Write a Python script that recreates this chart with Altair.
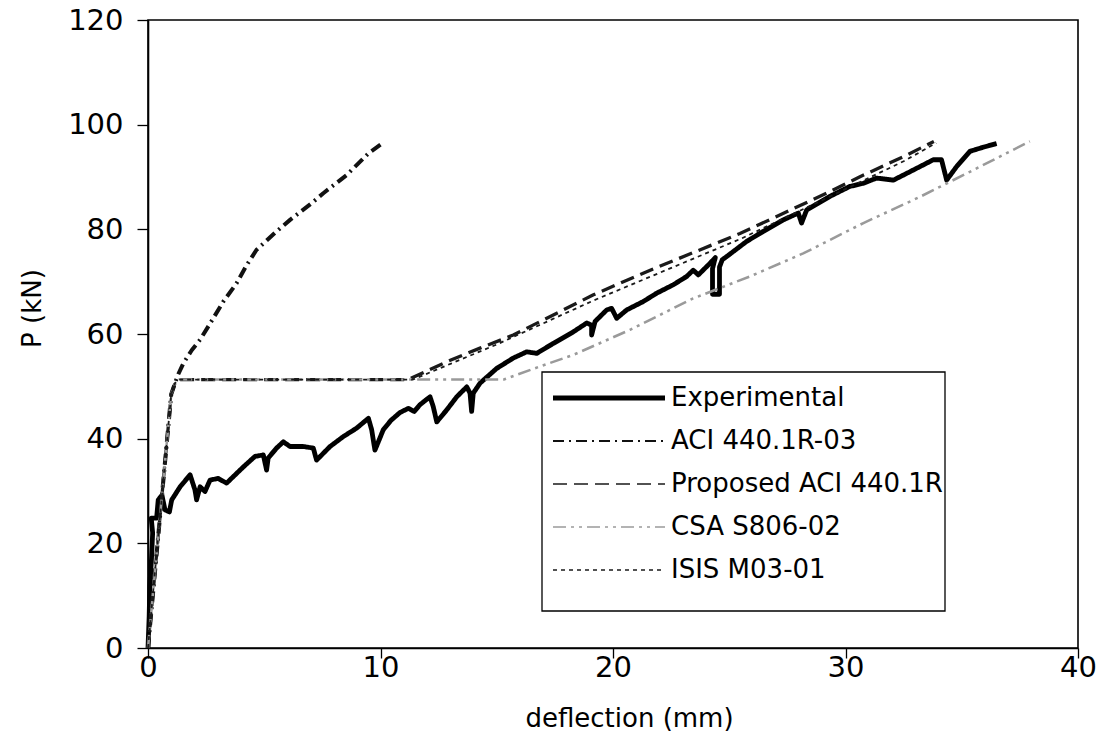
import altair as alt
import pandas as pd

# Load (kN) versus midspan deflection (mm)
exp_x = [0.00, 0.05, 0.08, 0.15, 0.20, 0.14, 0.37, 0.44, 0.60, 0.73, 0.92, 1.02, 1.38, 1.81,
         2.02, 2.09, 2.24, 2.45, 2.67, 3.02, 3.38, 4.10, 4.60, 4.96, 5.10, 5.17, 5.53, 5.82,
         6.11, 6.68, 7.11, 7.25, 7.83, 8.40, 8.97, 9.48, 9.62, 9.76, 10.12, 10.45, 10.84,
         11.20, 11.45, 11.70, 12.13, 12.27, 12.42, 12.85, 13.28, 13.71, 13.85, 13.92, 13.99,
         14.28, 14.99, 15.71, 16.29, 16.72, 17.43, 18.29, 18.87, 19.08, 19.08, 19.23, 19.73,
         19.94, 20.16, 20.59, 21.30, 21.88, 22.59, 23.17, 23.45, 23.67, 24.17, 24.40, 24.28,
         24.28, 24.58, 24.58, 24.70, 24.89, 25.75, 26.46, 27.32, 27.97, 28.11, 28.33, 29.33,
         30.19, 30.77, 31.34, 32.06, 32.77, 33.78, 34.13, 34.35, 34.78, 35.35, 35.93, 36.50]
exp_p = [0.0, 6.0, 12.0, 17.0, 22.0, 24.8, 24.8, 28.3, 29.2, 26.4, 26.0, 28.3, 30.8, 33.1,
         30.2, 28.3, 30.8, 29.9, 32.1, 32.4, 31.5, 34.6, 36.6, 36.9, 34.0, 36.3, 38.2, 39.4,
         38.5, 38.5, 38.2, 35.9, 38.5, 40.4, 42.0, 43.9, 41.7, 37.8, 41.7, 43.5, 45.0,
         45.8, 45.2, 46.5, 48.0, 46.1, 43.2, 45.5, 48.0, 49.9, 48.7, 45.2, 48.7,
         50.6, 53.4, 55.4, 56.6, 56.3, 58.2, 60.4, 62.1, 61.7, 59.8, 62.4, 64.6,
         64.9, 63.0, 64.6, 66.2, 67.8, 69.4, 71.0, 72.2, 71.3, 73.5, 74.6, 72.5,
         67.6, 67.6, 72.8, 74.2, 74.8, 77.7, 79.6, 81.8, 83.1, 81.2, 83.7, 86.3,
         88.2, 88.8, 89.8, 89.4, 91.0, 93.3, 93.3, 89.4, 92.0, 94.9, 95.7, 96.4]

aci03_x = [0.0, 0.5, 1.0, 1.16, 1.30, 1.52, 1.88, 2.24, 2.67, 3.24, 3.81, 4.25, 4.67, 5.53,
           6.11, 7.04, 7.54, 8.55, 9.48, 10.10]
aci03_p = [0.0, 24.3, 48.5, 50.6, 52.3, 54.4, 56.9, 58.9, 62.0, 66.2, 69.7, 73.2, 76.1, 79.6,
           81.8, 85.0, 86.9, 90.4, 94.5, 96.5]

prop_x = [0.0, 0.5, 1.0, 1.16, 1.35, 11.20, 12.85, 14.28, 15.71, 19.16, 21.60, 25.46, 29.19,
          30.60, 32.50, 33.80]
prop_p = [0.0, 24.3, 48.5, 50.6, 51.3, 51.3, 54.7, 57.3, 59.8, 67.5, 72.2, 79.2, 86.9,
          90.0, 93.9, 96.8]

csa_x = [0.0, 0.5, 1.0, 1.16, 1.35, 15.30, 16.86, 18.29, 20.73, 23.45, 25.89, 28.18, 30.77,
         33.20, 35.35, 37.93]
csa_p = [0.0, 24.3, 48.5, 50.6, 51.3, 51.3, 53.8, 56.0, 60.8, 66.8, 71.0, 75.4, 81.2,
         86.2, 91.0, 96.8]

isis_x = [0.0, 0.5, 1.0, 1.16, 1.35, 11.40, 13.06, 15.00, 19.16, 25.50, 29.20, 32.50, 33.90]
isis_p = [0.0, 24.3, 48.5, 50.6, 51.3, 51.3, 54.4, 58.0, 66.4, 78.2, 86.0, 93.0, 96.5]

series_names = ["Experimental", "ACI 440.1R-03", "Proposed ACI 440.1R", "CSA S806-02", "ISIS M03-01"]
x_ticks = [0, 10, 20, 30, 40]
y_ticks = [0, 20, 40, 60, 80, 100, 120]

# line styles per series
line_colors = ["#000000", "#111111", "#1a1a1a", "#9a9a9a", "#1a1a1a"]
line_dashes = [[1, 0], [11, 5, 2, 5], [14, 7], [13, 5, 3, 5, 3, 5], [4, 4]]
line_widths = [4.8, 1.8, 1.6, 1.4, 1.6]

FONT = "DejaVu Sans"

rows = []
for name, xs, ps in zip(series_names,
                        [exp_x, aci03_x, prop_x, csa_x, isis_x],
                        [exp_p, aci03_p, prop_p, csa_p, isis_p]):
    for i, (x, p) in enumerate(zip(xs, ps)):
        rows.append({"series": name, "deflection": x, "P": p, "idx": i})
df = pd.DataFrame(rows)

stroke_scale = alt.Scale(domain=series_names, range=line_colors)
dash_scale = alt.Scale(domain=series_names, range=line_dashes)
width_scale = alt.Scale(domain=series_names, range=line_widths)

lines = alt.Chart(df).mark_line(strokeJoin="round").encode(
    x=alt.X("deflection:Q",
            scale=alt.Scale(domain=[0, 40], nice=False, zero=False),
            axis=alt.Axis(values=x_ticks, title="deflection (mm)", grid=False,
                          tickSize=10, tickWidth=1.3, tickColor="black",
                          domainColor="black", domainWidth=1.6,
                          labelFont=FONT, labelFontSize=29, labelColor="black",
                          labelPadding=-5, labelFlush=False,
                          titleFont=FONT, titleFontSize=26, titleFontWeight="normal",
                          titleColor="black", titleX=481, titleY=70,
                          titleBaseline="middle")),
    y=alt.Y("P:Q",
            scale=alt.Scale(domain=[0, 120], nice=False),
            axis=alt.Axis(values=y_ticks, title="P (kN)", grid=False,
                          tickSize=11, tickWidth=1.3, tickColor="black",
                          domainColor="black", domainWidth=1.6,
                          labelFont=FONT, labelFontSize=29, labelColor="black",
                          labelPadding=14, labelFlush=False,
                          titleFont=FONT, titleFontSize=26, titleFontWeight="normal",
                          titleColor="black", titleX=-116, titleY=288,
                          titleBaseline="middle")),
    stroke=alt.Stroke("series:N", scale=stroke_scale, legend=None),
    strokeDash=alt.StrokeDash("series:N", scale=dash_scale, legend=None),
    strokeWidth=alt.StrokeWidth("series:N", scale=width_scale, legend=None),
    detail="series:N",
    order="idx:Q",
)

# legend drawn as a boxed panel inside the plot
one = pd.DataFrame({"k": [0]})
box_left, box_top, box_right, box_bottom = 394, 352, 797, 591
row_y0, row_step = 378, 43
sample_x1, sample_x2, text_x = 405, 517, 523

layers = [lines]
layers.append(alt.Chart(one).mark_rect(fill="white", stroke="black", strokeWidth=1.3).encode(
    x=alt.value(box_left), x2=alt.value(box_right),
    y=alt.value(box_top), y2=alt.value(box_bottom)))
for i, name in enumerate(series_names):
    yy = row_y0 + i * row_step
    layers.append(alt.Chart(one).mark_rule(
        stroke=line_colors[i], strokeDash=line_dashes[i], strokeWidth=line_widths[i]).encode(
        x=alt.value(sample_x1), x2=alt.value(sample_x2), y=alt.value(yy)))
    layers.append(alt.Chart(one).mark_text(
        text=name, align="left", baseline="middle", font=FONT, fontSize=26,
        color="black").encode(x=alt.value(text_x), y=alt.value(yy)))

chart = alt.layer(*layers).properties(
    width=930, height=628,
    autosize=alt.AutoSizeParams(type="none"),
    padding={"left": 148, "top": 20, "right": 29, "bottom": 108},
    background="white",
).configure_view(stroke="black", strokeWidth=1.6)

chart.save("out.html", embed_options={"renderer": "svg", "actions": False})
